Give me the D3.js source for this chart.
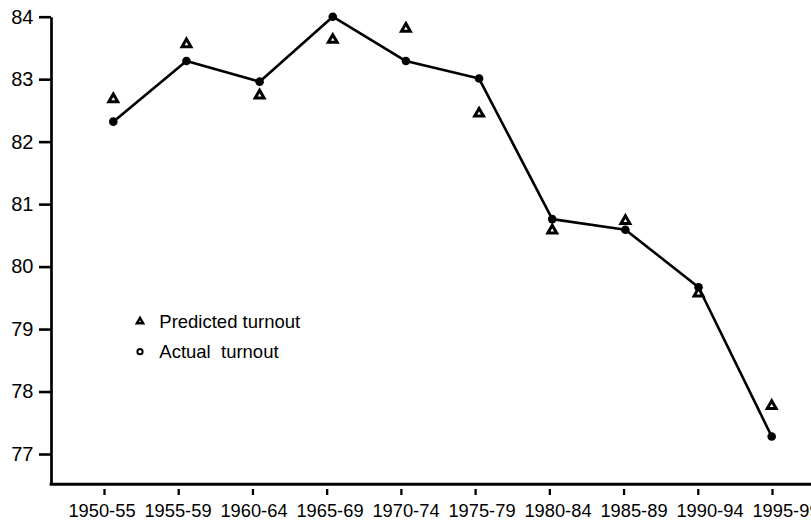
<!DOCTYPE html>
<html>
<head>
<meta charset="utf-8">
<script src="https://cdn.jsdelivr.net/npm/d3@7"></script>
<style>
  html, body { margin: 0; padding: 0; background: #fff; }
  svg { display: block; }
  text { font-family: "Liberation Sans", Arial, Helvetica, sans-serif; fill: #000; }
</style>
</head>
<body>
<svg id="chart" width="811" height="521"></svg>
<script>
// ---- data ----
const categories = ["1950-55","1955-59","1960-64","1965-69","1970-74","1975-79","1980-84","1985-89","1990-94","1995-99"];
const actualTurnout = [82.32, 83.29, 82.96, 84.0, 83.29, 83.01, 80.76, 80.59, 79.67, 77.28];
const predictedTurnout = [82.68, 83.56, 82.74, 83.63, 83.81, 82.45, 80.58, 80.73, 79.57, 77.77];
const yTicks = [77, 78, 79, 80, 81, 82, 83, 84];
const legendLabels = ["Predicted turnout", "Actual  turnout"];

// ---- layout ----
const W = 811, H = 521;
const axisX = 51, axisY = 484.3;
const svg = d3.select("#chart");

const x = d3.scalePoint().domain(categories).range([113.3, 771.7]);
const xTick = d3.scalePoint().domain(categories).range([104, 772]);
const xLabel = d3.scalePoint().domain(categories).range([102, 786]);
const y = d3.scaleLinear().domain([76.515, 84]).range([axisY, 16.7]);

// y axis
const yAxis = svg.append("g")
  .attr("transform", `translate(${axisX},0)`)
  .call(d3.axisLeft(y).tickValues(yTicks).tickFormat(d3.format("d"))
        .tickSize(12).tickSizeOuter(0).tickPadding(5.5));
yAxis.select(".domain").attr("stroke", "#000").attr("stroke-width", 2.7);
yAxis.selectAll(".tick line").attr("stroke", "#000").attr("stroke-width", 2.6);
yAxis.selectAll(".tick text")
  .attr("font-size", 20)
  .attr("font-family", "Liberation Sans, Arial, sans-serif")
  .attr("fill", "#000");

// x axis line
svg.append("line")
  .attr("x1", axisX - 1.35).attr("x2", W)
  .attr("y1", axisY).attr("y2", axisY)
  .attr("stroke", "#000").attr("stroke-width", 3);

// x ticks
const xAxis = svg.append("g")
  .attr("transform", `translate(0,489)`)
  .call(d3.axisBottom(xTick).tickSize(6).tickSizeOuter(0).tickFormat(""));
xAxis.select(".domain").remove();
xAxis.selectAll(".tick line").attr("stroke", "#000").attr("stroke-width", 2.3);

// x labels
svg.append("g").selectAll("text")
  .data(categories).join("text")
  .attr("x", d => xLabel(d))
  .attr("y", 517)
  .attr("text-anchor", "middle")
  .attr("font-size", 18.3)
  .text(d => d);

// line of actual turnout
const line = d3.line()
  .x((d, i) => x(categories[i]))
  .y(d => y(d));
svg.append("path")
  .datum(actualTurnout)
  .attr("d", line)
  .attr("fill", "none")
  .attr("stroke", "#000")
  .attr("stroke-width", 2.6)
  .attr("stroke-linejoin", "round");

// actual points
svg.append("g").selectAll("circle")
  .data(actualTurnout).join("circle")
  .attr("cx", (d, i) => x(categories[i]))
  .attr("cy", d => y(d))
  .attr("r", 4.3)
  .attr("fill", "#000");

// predicted triangles
const tri = d3.symbol().type(d3.symbolTriangle).size(34);
svg.append("g").selectAll("path")
  .data(predictedTurnout).join("path")
  .attr("d", tri)
  .attr("transform", (d, i) => `translate(${x(categories[i])},${y(d)})`)
  .attr("fill", "#fff")
  .attr("stroke", "#000")
  .attr("stroke-width", 3)
  .attr("stroke-linejoin", "miter");

// legend
const legend = svg.append("g");
legend.append("path")
  .attr("d", d3.symbol().type(d3.symbolTriangle).size(17)())
  .attr("transform", "translate(140,321.5)")
  .attr("fill", "#fff").attr("stroke", "#000").attr("stroke-width", 2.4)
  .attr("stroke-linejoin", "miter");
legend.append("circle")
  .attr("cx", 140).attr("cy", 351.7).attr("r", 2.6)
  .attr("fill", "#fff").attr("stroke", "#000").attr("stroke-width", 2);
legend.selectAll("text")
  .data(legendLabels).join("text")
  .attr("x", 159.3)
  .attr("y", (d, i) => 328.3 + i * 30)
  .attr("font-size", 18.5)
  .style("white-space", "pre")
  .text(d => d);
</script>
</body>
</html>
